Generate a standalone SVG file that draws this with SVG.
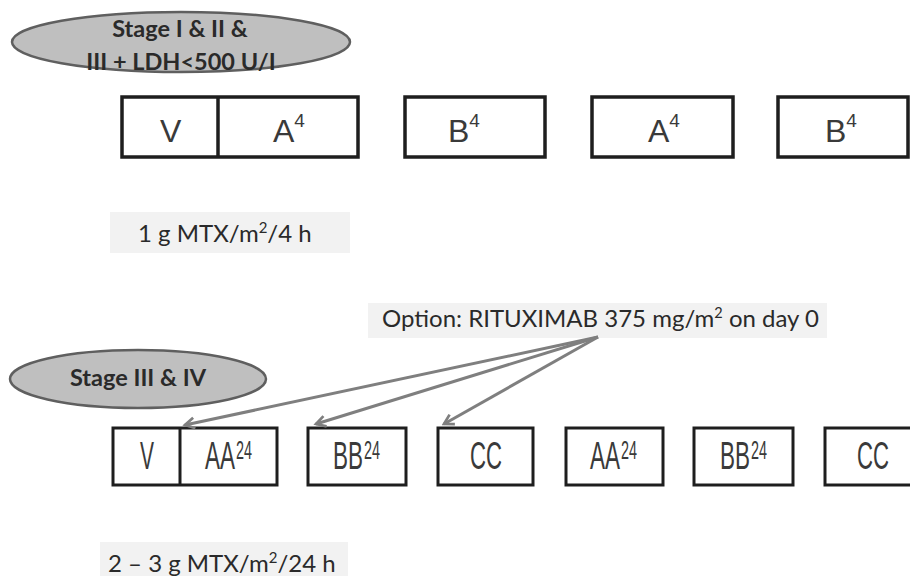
<svg xmlns="http://www.w3.org/2000/svg" width="910" height="576" viewBox="0 0 910 576">
<defs>
<style>
.ell{fill:#bfbfbf;stroke:#5f5f5f;stroke-width:2.5}
.lbl{font-family:Lato,"Open Sans",sans-serif;font-weight:bold;font-size:23.5px;fill:#2a2a2a;text-anchor:middle}
.box1{fill:#fff;stroke:#1e1e1e;stroke-width:3.5}
.box2{fill:#fff;stroke:#1e1e1e;stroke-width:3}
.t1{font-family:"Liberation Sans",Arial,sans-serif;font-size:32px;fill:#3a3a3a}
.t2{font-family:"Liberation Sans",Arial,sans-serif;font-size:38px;fill:#3a3a3a}
.s2{font-family:"Liberation Sans",Arial,sans-serif;font-size:25px;fill:#3a3a3a}
.note{fill:#f2f2f2}
.nt{font-family:Lato,"Open Sans",sans-serif;font-size:24px;fill:#2a2a2a}
.arr{stroke:#7f7f7f;stroke-width:3;fill:none;marker-end:url(#ah)}
</style>
<marker id="ah" viewBox="0 0 10 10" refX="8" refY="5" markerWidth="4.5" markerHeight="4.5" orient="auto" markerUnits="strokeWidth">
<path d="M1,1 L8,5 L1,9" fill="none" stroke="#7f7f7f" stroke-width="2"/>
</marker>
</defs>
<rect width="910" height="576" fill="#fff"/>

<g id="stage12">
<ellipse class="ell" cx="181" cy="42" rx="169" ry="30"/>
<text class="lbl" x="180" y="37">Stage I &amp; II &amp;</text>
<text class="lbl" x="181" y="70">III + LDH&lt;500 U/I</text>
</g>

<g id="top-VA">
<rect class="box1" x="122" y="97" width="236" height="60"/>
<line x1="218" y1="97" x2="218" y2="157" stroke="#1e1e1e" stroke-width="3.5"/>
<text class="t1" x="160" y="142">V</text>
<text class="t1" x="273" y="142">A<tspan font-size="19" dy="-15">4</tspan></text>
</g>
<g id="top-B1">
<rect class="box1" x="405" y="97" width="140" height="60"/>
<text class="t1" x="448" y="142">B<tspan font-size="19" dy="-15">4</tspan></text>
</g>
<g id="top-A2">
<rect class="box1" x="592" y="97" width="141" height="60"/>
<text class="t1" x="648" y="142">A<tspan font-size="19" dy="-15">4</tspan></text>
</g>
<g id="top-B2">
<rect class="box1" x="778" y="97" width="130" height="60"/>
<text class="t1" x="825" y="142">B<tspan font-size="19" dy="-15">4</tspan></text>
</g>

<g id="note1">
<rect class="note" x="110" y="212" width="240" height="41"/>
<text class="nt" x="138" y="242">1 g MTX/m<tspan font-size="15" dy="-9">2</tspan><tspan dy="9">/4 h</tspan></text>
</g>

<g id="option">
<rect class="note" x="368" y="303" width="459" height="35"/>
<text class="nt" x="382" y="327" font-size="22.7">Option: RITUXIMAB 375 mg/m<tspan font-size="14.5" dy="-9">2</tspan><tspan dy="9"> on day 0</tspan></text>
</g>

<g id="stage34">
<ellipse class="ell" cx="138" cy="379" rx="128" ry="29"/>
<text class="lbl" x="138" y="386">Stage III &amp; IV</text>
</g>

<g id="bot-VAA">
<rect class="box2" x="113" y="428" width="164" height="57"/>
<line x1="180" y1="428" x2="180" y2="485" stroke="#1e1e1e" stroke-width="3"/>
<text class="t2" x="140" y="469" textLength="14" lengthAdjust="spacingAndGlyphs">V</text>
<text class="t2" x="205" y="469" textLength="30" lengthAdjust="spacingAndGlyphs">AA</text>
<text class="s2" x="236" y="459" textLength="16" lengthAdjust="spacingAndGlyphs">24</text>
</g>
<g id="bot-BB1">
<rect class="box2" x="308" y="428" width="98" height="57"/>
<text class="t2" x="333" y="469" textLength="30" lengthAdjust="spacingAndGlyphs">BB</text>
<text class="s2" x="364" y="459" textLength="16" lengthAdjust="spacingAndGlyphs">24</text>
</g>
<g id="bot-CC1">
<rect class="box2" x="438" y="428" width="95" height="57"/>
<text class="t2" x="470" y="469" textLength="32" lengthAdjust="spacingAndGlyphs">CC</text>
</g>
<g id="bot-AA2">
<rect class="box2" x="566" y="428" width="97" height="57"/>
<text class="t2" x="590" y="469" textLength="30" lengthAdjust="spacingAndGlyphs">AA</text>
<text class="s2" x="621" y="459" textLength="16" lengthAdjust="spacingAndGlyphs">24</text>
</g>
<g id="bot-BB2">
<rect class="box2" x="694" y="428" width="99" height="57"/>
<text class="t2" x="720" y="469" textLength="30" lengthAdjust="spacingAndGlyphs">BB</text>
<text class="s2" x="751" y="459" textLength="16" lengthAdjust="spacingAndGlyphs">24</text>
</g>
<g id="bot-CC2">
<rect class="box2" x="825" y="428" width="90" height="57"/>
<text class="t2" x="857" y="469" textLength="32" lengthAdjust="spacingAndGlyphs">CC</text>
</g>

<g id="note2">
<rect class="note" x="100" y="542" width="248" height="34"/>
<text class="nt" x="108" y="572" font-size="23.4">2 – 3 g MTX/m<tspan font-size="15" dy="-9">2</tspan><tspan dy="9">/24 h</tspan></text>
</g>

<g id="connectors">
<line class="arr" x1="598" y1="337" x2="185" y2="425"/>
<line class="arr" x1="598" y1="337" x2="316" y2="424"/>
<line class="arr" x1="598" y1="337" x2="444" y2="424"/>
</g>
</svg>
